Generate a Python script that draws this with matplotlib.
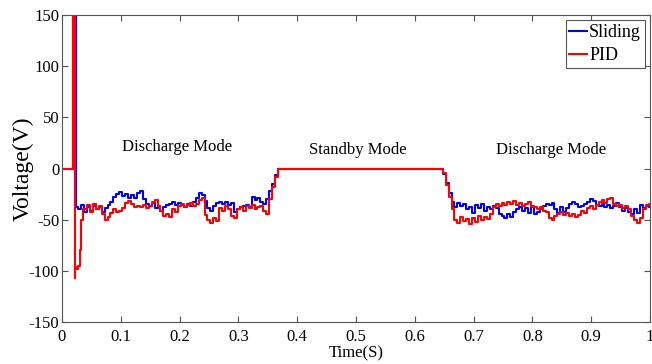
import numpy as np
import matplotlib
matplotlib.use('Agg')
import matplotlib.pyplot as plt

plt.rcParams.update({
    'font.family': 'Liberation Serif',
    'font.size': 12,
    'axes.unicode_minus': False,
    'xtick.direction': 'in',
    'ytick.direction': 'in',
    'xtick.top': True,
    'ytick.right': True,
})

# start-up transient (time s, voltage V)
t_start_sliding = [0.0, 0.0238, 0.0240, 0.0244, 0.0250]
v_start_sliding = [0, 0, 400, 400, -38]
t_start_pid = [0.0, 0.0190, 0.0192, 0.0218, 0.0224, 0.0235, 0.0260, 0.0300, 0.0320, 0.0345, 0.0365]
v_start_pid = [0, 0, 400, 400, -107, -96, -98, -95, -80, -50, -40]

# first discharge interval, sampled every 5 ms
v_dis1_sliding = [-40, -36, -42, -38, -41, -37, -40, -38, -42, -39, -36, -33, -28, -25,
                  -23, -27, -25, -29, -26, -29, -24, -22, -30, -35, -37, -34, -39, -37,
                  -41, -38, -36, -35, -33, -36, -34, -36, -38, -35, -37, -33, -29, -24,
                  -26, -32, -39, -41, -37, -34, -33, -35, -33, -36, -34, -42, -40, -38,
                  -37, -36, -38, -28, -31, -29, -33, -35, -30, -22, -15, -6, 0]
t_dis1_sliding = 0.030 + 0.005 * np.arange(len(v_dis1_sliding))
v_dis1_pid = [-40, -36, -42, -35, -40, -37, -44, -50, -47, -43, -40, -42, -41, -39, -34,
              -32, -35, -38, -37, -38, -36, -39, -37, -33, -31, -37, -41, -46, -44, -47,
              -40, -42, -37, -35, -38, -36, -34, -37, -35, -31, -29, -45, -50, -53, -48,
              -51, -39, -41, -37, -40, -46, -48, -40, -38, -41, -37, -39, -36, -40, -38,
              -37, -41, -44, -30, -18, -8, 0]
t_dis1_pid = 0.040 + 0.005 * np.arange(len(v_dis1_pid))

# standby interval
t_standby = [0.375, 0.645]
v_standby = [0, 0]

# second discharge interval, sampled every 5 ms
v_dis2_sliding = [-5, -14, -24, -33, -38, -34, -37, -35, -40, -38, -43, -36, -39, -35,
                  -41, -38, -40, -37, -39, -44, -46, -48, -44, -47, -42, -40, -38, -41,
                  -39, -43, -38, -44, -42, -40, -37, -35, -36, -34, -40, -43, -38, -42,
                  -39, -35, -33, -35, -38, -37, -35, -33, -30, -32, -36, -37, -35, -38,
                  -36, -39, -37, -34, -38, -41, -39, -42, -44, -40, -43, -36, -39, -37, -38]
v_dis2_pid = [-4, -16, -28, -40, -50, -53, -47, -51, -49, -54, -48, -52, -46, -50, -47,
              -49, -44, -38, -35, -37, -34, -36, -33, -35, -32, -36, -34, -37, -35, -33,
              -37, -38, -40, -38, -41, -42, -48, -50, -46, -44, -42, -45, -43, -46, -44,
              -47, -45, -41, -43, -39, -37, -40, -36, -33, -31, -34, -30, -29, -35, -37,
              -36, -39, -37, -40, -46, -50, -53, -48, -40, -36, -35]
t_dis2 = 0.650 + 0.005 * np.arange(len(v_dis2_pid))

mode_labels = ['Discharge Mode', 'Standby Mode', 'Discharge Mode']
mode_pos = [(0.196, 21), (0.503, 18), (0.832, 18)]

t_sliding = np.concatenate([t_start_sliding, t_dis1_sliding, t_standby, t_dis2])
v_sliding = np.concatenate([v_start_sliding, v_dis1_sliding, v_standby, v_dis2_sliding])
t_pid = np.concatenate([t_start_pid, t_dis1_pid, t_standby, t_dis2])
v_pid = np.concatenate([v_start_pid, v_dis1_pid, v_standby, v_dis2_pid])

fig = plt.figure(figsize=(6.52, 3.64), dpi=100)
ax = fig.add_axes([0.095, 0.115, 0.902, 0.844])

ax.plot(t_sliding, v_sliding, color='#0000ff', linewidth=1.5, label='Sliding',
        drawstyle='steps-mid')
ax.plot(t_pid, v_pid, color='#ff0000', linewidth=1.5, label='PID',
        drawstyle='steps-mid')

for lab, (x, y) in zip(mode_labels, mode_pos):
    ax.text(x, y, lab, ha='center', va='center', fontsize=12)

ax.set_xlim(0, 1)
ax.set_ylim(-150, 150)
ax.set_xticks(np.arange(0, 1.01, 0.1))
ax.set_xticklabels(['0', '0.1', '0.2', '0.3', '0.4', '0.5', '0.6', '0.7', '0.8', '0.9', '1'])
ax.set_yticks(np.arange(-150, 151, 50))
ax.tick_params(length=4, color='#555555', labelsize=12)
ax.tick_params(axis='x', pad=5)
ax.tick_params(axis='y', pad=2)
for s in ax.spines.values():
    s.set_color('#555555')
    s.set_linewidth(0.8)

ax.set_xlabel('Time(S)', fontsize=12, labelpad=0)
ax.set_ylabel('Voltage(V)', fontsize=17, labelpad=-4)

leg = ax.legend(loc='upper right', fontsize=13, handlelength=1.0, handletextpad=0.1,
                borderpad=0.2, labelspacing=0.35, fancybox=False, framealpha=1,
                borderaxespad=0.3)
leg.get_frame().set_edgecolor('#555555')
leg.get_frame().set_linewidth(0.8)

fig.savefig('out.png', dpi=100)
